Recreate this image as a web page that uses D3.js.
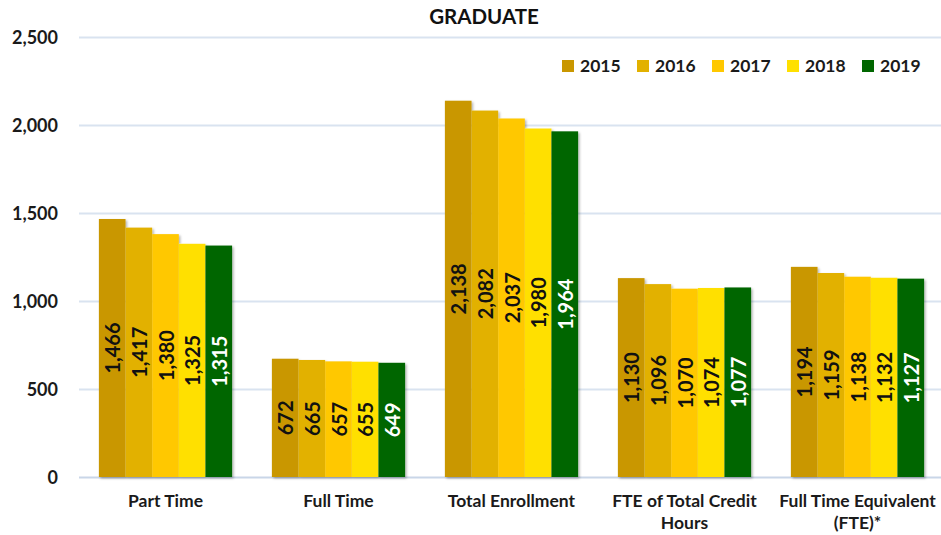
<!DOCTYPE html>
<html><head><meta charset="utf-8">
<script src="https://cdn.jsdelivr.net/npm/d3@7"></script>
<style>
body{margin:0;background:#fff;}
svg{display:block;font-family:Lato,"Open Sans",sans-serif;font-weight:bold;}
</style></head>
<body><svg id="chart" width="941" height="535"></svg>
<script>
const categories = [["Part Time"],["Full Time"],["Total Enrollment"],["FTE of Total Credit","Hours"],["Full Time Equivalent","(FTE)*"]];
const years = ["2015","2016","2017","2018","2019"];
const v2015 = [1466, 672, 2138, 1130, 1194];
const v2016 = [1417, 665, 2082, 1096, 1159];
const v2017 = [1380, 657, 2037, 1070, 1138];
const v2018 = [1325, 655, 1980, 1074, 1132];
const v2019 = [1315, 649, 1964, 1077, 1127];
const yTicks = [0, 500, 1000, 1500, 2000, 2500];
const colors = ["#C99700", "#E2B100", "#FFC800", "#FFE000", "#006600"];
const labelColors = ["#111", "#111", "#111", "#111", "#fff"];
const series = [v2015, v2016, v2017, v2018, v2019];

const svg = d3.select("#chart");

const defs = svg.append("defs");
const f = defs.append("filter").attr("id","sh").attr("x","-20%").attr("y","-5%").attr("width","150%").attr("height","115%");
f.append("feDropShadow").attr("dx",1.5).attr("dy",1.5).attr("stdDeviation",1.2).attr("flood-color","#000").attr("flood-opacity",0.3);

const x0 = d3.scaleBand().domain(d3.range(categories.length)).range([79, 944]).paddingInner(0.23).paddingOuter(0.115);
const x1 = d3.scaleBand().domain(d3.range(years.length)).range([0, x0.bandwidth()]);
const y = d3.scaleLinear().domain([0, 2500]).range([477, 37]);

// gridlines
svg.append("g").selectAll("line").data(yTicks).join("line")
  .attr("x1", 79).attr("x2", 941)
  .attr("y1", d => Math.round(y(d)) + 0.5).attr("y2", d => Math.round(y(d)) + 0.5)
  .attr("stroke", d => d === 0 ? "#C9D6E8" : "#D9E3F0").attr("stroke-width", 2);

// y axis labels
const yAxis = d3.axisLeft(y).tickValues(yTicks).tickFormat(d3.format(",")).tickSize(0).tickPadding(0);
const ya = svg.append("g").attr("transform", "translate(58,0)").call(yAxis);
ya.select(".domain").remove();
ya.selectAll("text").attr("font-size", 18).attr("font-family", "Lato, 'Open Sans', sans-serif").attr("font-weight", "bold").attr("fill", "#1a1a1a").attr("dy", "0.35em");

// bars
const groups = svg.append("g").selectAll("g").data(categories).join("g")
  .attr("transform", (d, i) => `translate(${x0(i)},0)`);
groups.each(function(c, ci) {
  const g = d3.select(this);
  const vals = series.map(s => s[ci]);
  g.append("g").attr("filter","url(#sh)").selectAll("rect").data(vals).join("rect")
    .attr("x", (d, si) => x1(si)).attr("width", x1.bandwidth())
    .attr("y", d => y(d)).attr("height", d => y(0) - y(d))
    .attr("fill", (d, si) => colors[si]);
  g.selectAll("text").data(vals).join("text")
    .attr("transform", (d, si) => `translate(${x1(si) + x1.bandwidth()/2},${(y(d) + y(0))/2}) rotate(-90)`)
    .attr("text-anchor", "middle").attr("dominant-baseline", "central")
    .attr("font-size", 20).attr("fill", (d, si) => labelColors[si])
    .text(d => d3.format(",")(d));
});

// x labels
const xl = svg.append("g").selectAll("text").data(categories).join("text")
  .attr("x", (d, i) => x0(i) + x0.bandwidth()/2).attr("y", 507)
  .attr("text-anchor", "middle").attr("font-size", 17.5).attr("fill", "#1a1a1a");
xl.selectAll("tspan").data(d => d).join("tspan")
  .attr("x", function() { return d3.select(this.parentNode).attr("x"); })
  .attr("dy", (d, i) => i === 0 ? 0 : 22).text(d => d);

// title
svg.append("text").attr("x", 484).attr("y", 24).attr("text-anchor", "middle")
  .attr("font-size", 20.5).attr("fill", "#111").text("GRADUATE");

// legend
const lg = svg.append("g").selectAll("g").data(years).join("g")
  .attr("transform", (d, i) => `translate(${562 + i * 75},60)`);
lg.append("rect").attr("width", 12).attr("height", 12).attr("fill", (d, i) => colors[i]);
lg.append("text").attr("x", 18).attr("y", 12).attr("font-size", 17.5).attr("fill", "#1a1a1a").text(d => d);
</script>
</body></html>
